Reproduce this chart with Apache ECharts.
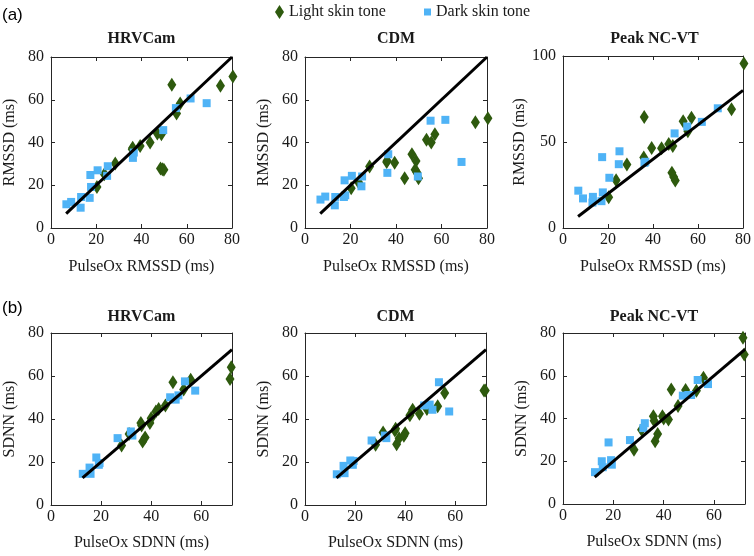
<!DOCTYPE html>
<html>
<head>
<meta charset="utf-8">
<script src="https://cdn.jsdelivr.net/npm/echarts@6/dist/echarts.min.js"></script>
<style>
	html, body { margin: 0; padding: 0; background: #fff; }
	#id_chart { width: 754px; height: 556px; }
</style>
</head>
<body>
<div id="id_chart"></div>
<script>
// RMSSD row (a): the PulseOx reference (x) is shared by the three devices
var rmssdLightX = [20.3, 23.6, 28.4, 35.9, 36.1, 39.4, 43.8, 47.0, 48.8, 48.4, 49.2, 49.9, 53.4, 55.5, 57.1, 74.9, 80.4];
var rmssdLightHRVCam = [19.2, 25.2, 30.2, 36.9, 37.5, 38.4, 40.0, 44.2, 43.9, 27.8, 27.5, 27.2, 67.0, 53.6, 58.3, 66.6, 70.9];
var rmssdLightCDM = [18.6, 21.3, 28.8, 30.9, 31.5, 30.5, 23.3, 34.5, 31.4, 27.2, 26.0, 23.3, 41.3, 40.0, 43.9, 49.5, 51.4];
var rmssdLightPeak = [17.9, 27.8, 36.9, 41.0, 64.5, 46.5, 46.4, 48.9, 47.7, 32.1, 29.6, 27.6, 62.1, 56.2, 64.1, 69.0, 95.7];

var rmssdDarkX = [6.8, 8.9, 13.1, 13.3, 17.1, 17.4, 17.7, 20.6, 24.8, 25.1, 36.2, 36.6, 49.6, 55.2, 61.7, 68.8];
var rmssdDarkHRVCam = [11.1, 12.2, 9.5, 14.5, 14.1, 24.8, 19.2, 27.0, 24.4, 28.9, 32.8, 35.3, 45.8, 56.1, 60.6, 58.4];
var rmssdDarkCDM = [13.3, 14.7, 10.6, 14.5, 14.5, 22.3, 15.3, 24.4, 19.5, 24.1, 25.8, 34.5, 24.1, 50.2, 50.6, 30.9];
var rmssdDarkPeak = [21.7, 17.2, 14.8, 18.1, 15.6, 41.2, 20.7, 29.2, 37.1, 44.6, 37.9, 38.5, 55.0, 59.0, 61.7, 69.6];

// SDNN row (b)
var sdnnLightX = [28.2, 31.2, 35.9, 36.2, 36.6, 37.6, 39.5, 40.0, 41.9, 43.0, 45.7, 48.7, 53.0, 55.8, 71.5, 72.0];
var sdnnLightHRVCam = [27.7, 33.0, 38.1, 37.0, 29.5, 31.4, 38.1, 40.4, 43.5, 44.6, 46.3, 57.1, 53.7, 58.3, 58.6, 64.1];
var sdnnLightCDM = [28.0, 33.7, 34.7, 35.5, 28.3, 31.1, 32.2, 33.4, 41.7, 44.3, 42.5, 44.6, 45.9, 52.1, 53.3, 53.3];
var sdnnLightPeak = [25.4, 34.7, 41.1, 38.9, 29.3, 32.7, 41.1, 40.0, 39.5, 53.6, 45.9, 53.3, 53.0, 59.1, 77.8, 69.9];

var sdnnDarkX = [12.7, 15.4, 15.8, 18.1, 19.1, 19.4, 26.6, 31.9, 32.5, 47.6, 49.8, 50.9, 53.5, 57.6];
var sdnnDarkHRVCam = [14.5, 17.4, 14.5, 22.1, 18.7, 19.5, 31.1, 34.2, 32.3, 50.1, 49.0, 51.0, 57.5, 53.2];
var sdnnDarkCDM = [14.3, 18.2, 14.8, 20.7, 18.7, 20.5, 30.0, 32.3, 31.1, 46.3, 46.7, 44.3, 57.1, 43.5];
var sdnnDarkPeak = [14.9, 20.0, 17.2, 28.8, 20.5, 18.4, 29.9, 35.5, 37.8, 50.7, 51.0, 51.0, 58.0, 56.1];

// identity line ends
var rmssdLine = [6.7, 80];
var sdnnLine = [12.6, 72.3];

var titles = ["HRVCam", "CDM", "Peak NC-VT"];

var chart = echarts.init(document.getElementById("id_chart"), null, { renderer: "canvas" });

var colors = { light: "#2e5a0e", dark: "#4fb3f6", axis: "#262626", text: "#1a1a1a" };
var serif = "Liberation Serif";

function zip(xs, ys) {
	return xs.map(function (x, i) {
		return [x, ys[i]];
	});
}

var panels = [
	{ grid: { left: 51, top: 57, width: 181, height: 171 }, xMax: 80, yMax: 80, yInt: 20, xName: "PulseOx RMSSD (ms)", yName: "RMSSD (ms)", lx: rmssdLightX, ly: rmssdLightHRVCam, dx: rmssdDarkX, dy: rmssdDarkHRVCam, line: rmssdLine },
	{ grid: { left: 305, top: 57, width: 182, height: 171 }, xMax: 80, yMax: 80, yInt: 20, xName: "PulseOx RMSSD (ms)", yName: "RMSSD (ms)", lx: rmssdLightX, ly: rmssdLightCDM, dx: rmssdDarkX, dy: rmssdDarkCDM, line: rmssdLine },
	{ grid: { left: 563, top: 56, width: 183, height: 172 }, xMax: 80, yMax: 100, yInt: 50, xName: "PulseOx RMSSD (ms)", yName: "RMSSD (ms)", lx: rmssdLightX, ly: rmssdLightPeak, dx: rmssdDarkX, dy: rmssdDarkPeak, line: rmssdLine },
	{ grid: { left: 51, top: 333, width: 181, height: 172 }, xMax: 72.3, yMax: 80, yInt: 20, xName: "PulseOx SDNN (ms)", yName: "SDNN (ms)", lx: sdnnLightX, ly: sdnnLightHRVCam, dx: sdnnDarkX, dy: sdnnDarkHRVCam, line: sdnnLine },
	{ grid: { left: 305, top: 333, width: 181, height: 172 }, xMax: 72.3, yMax: 80, yInt: 20, xName: "PulseOx SDNN (ms)", yName: "SDNN (ms)", lx: sdnnLightX, ly: sdnnLightCDM, dx: sdnnDarkX, dy: sdnnDarkCDM, line: sdnnLine },
	{ grid: { left: 563, top: 333, width: 182, height: 171 }, xMax: 72.3, yMax: 80, yInt: 20, xName: "PulseOx SDNN (ms)", yName: "SDNN (ms)", lx: sdnnLightX, ly: sdnnLightPeak, dx: sdnnDarkX, dy: sdnnDarkPeak, line: sdnnLine }
];

var grid = [], xAxis = [], yAxis = [], series = [], graphic = [];

panels.forEach(function (p, i) {
	grid.push(p.grid);
	var axisLine = { show: true, onZero: false, lineStyle: { color: colors.axis, width: 1 } };
	var axisTick = { show: true, inside: true, length: 4, lineStyle: { color: colors.axis, width: 1 } };
	var nameStyle = { fontFamily: serif, fontSize: 16, color: colors.text };

	// bottom + top x axes (top one only for the box ticks)
	xAxis.push({
		gridIndex: i, type: "value", min: 0, max: p.xMax, interval: 20, position: "bottom",
		axisLine: axisLine, axisTick: axisTick, splitLine: { show: false },
		axisLabel: {
			fontFamily: serif, fontSize: 16, color: colors.text, margin: 4,
			formatter: function (v) { return v % 20 === 0 ? v : ""; }
		},
		name: p.xName, nameLocation: "middle", nameGap: i < 3 ? 31 : 30, nameTextStyle: nameStyle
	});
	xAxis.push({
		gridIndex: i, type: "value", min: 0, max: p.xMax, interval: 20, position: "top",
		axisLine: axisLine, axisTick: axisTick, splitLine: { show: false }, axisLabel: { show: false }
	});
	yAxis.push({
		gridIndex: i, type: "value", min: 0, max: p.yMax, interval: p.yInt, position: "left",
		axisLine: axisLine, axisTick: axisTick, splitLine: { show: false },
		axisLabel: { fontFamily: serif, fontSize: 16, color: colors.text, margin: 7 },
		name: p.yName, nameLocation: "middle", nameGap: 33, nameTextStyle: nameStyle
	});
	yAxis.push({
		gridIndex: i, type: "value", min: 0, max: p.yMax, interval: p.yInt, position: "right",
		axisLine: axisLine, axisTick: axisTick, splitLine: { show: false }, axisLabel: { show: false }
	});

	series.push({
		type: "scatter", name: "Light skin tone", xAxisIndex: 2 * i, yAxisIndex: 2 * i,
		data: zip(p.lx, p.ly), symbol: "diamond", symbolSize: [9, 14], clip: false,
		itemStyle: { color: colors.light, opacity: 1 }, z: 2
	});
	series.push({
		type: "scatter", name: "Dark skin tone", xAxisIndex: 2 * i, yAxisIndex: 2 * i,
		data: zip(p.dx, p.dy), symbol: "rect", symbolSize: 8, clip: false,
		itemStyle: { color: colors.dark, opacity: 1 }, z: 3
	});
	series.push({
		type: "line", name: "identity", xAxisIndex: 2 * i, yAxisIndex: 2 * i,
		data: [[p.line[0], p.line[0]], [p.line[1], p.line[1]]],
		symbol: "none", silent: true,
		lineStyle: { color: "#000", width: 3 }, z: 4
	});

	graphic.push({
		type: "text", x: p.grid.left + p.grid.width / 2, y: i < 3 ? 39 : 317,
		style: {
			text: titles[i % 3], font: "bold 16px " + serif, fill: colors.text,
			textAlign: "center", textVerticalAlign: "middle"
		}
	});
});

graphic.push({ type: "text", x: 2, y: 15, style: { text: "(a)", font: "17px Liberation Sans", fill: "#000", textVerticalAlign: "middle" } });
graphic.push({ type: "text", x: 2, y: 308, style: { text: "(b)", font: "17px Liberation Sans", fill: "#000", textVerticalAlign: "middle" } });

var option = {
	animation: false,
	backgroundColor: "#fff",
	legend: [
		{
			left: 275, top: 4, padding: 0, selectedMode: false,
			itemWidth: 9, itemHeight: 14,
			data: [{ name: "Light skin tone", icon: "diamond" }],
			textStyle: { fontFamily: serif, fontSize: 16, color: colors.text }
		},
		{
			left: 424, top: 4, padding: 0, selectedMode: false,
			itemWidth: 7, itemHeight: 7,
			data: [{ name: "Dark skin tone", icon: "rect" }],
			textStyle: { fontFamily: serif, fontSize: 16, color: colors.text }
		}
	],
	grid: grid,
	xAxis: xAxis,
	yAxis: yAxis,
	series: series,
	graphic: graphic
};
chart.setOption(option);
</script>
</body>
</html>
